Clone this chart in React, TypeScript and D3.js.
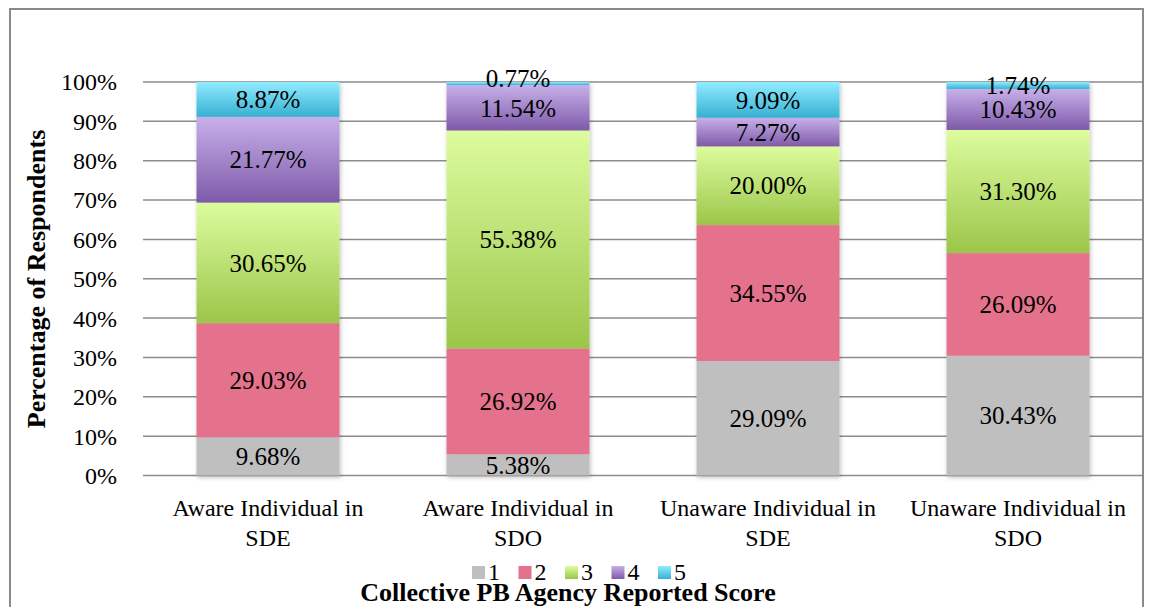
import React, { useEffect, useRef } from "react"
import * as d3 from "d3"

const categories = [
  ["Aware Individual in", "SDE"],
  ["Aware Individual in", "SDO"],
  ["Unaware Individual in", "SDE"],
  ["Unaware Individual in", "SDO"],
]
const scores = ["1", "2", "3", "4", "5"]
const score1 = [9.68, 5.38, 29.09, 30.43]
const score2 = [29.03, 26.92, 34.55, 26.09]
const score3 = [30.65, 55.38, 20.0, 31.3]
const score4 = [21.77, 11.54, 7.27, 10.43]
const score5 = [8.87, 0.77, 9.09, 1.74]
const yTicks = [0, 10, 20, 30, 40, 50, 60, 70, 80, 90, 100]

// top / bottom colours of each segment gradient
const colors = [
  ["#bfbfbf", "#bfbfbf"],
  ["#e5728c", "#e5728c"],
  ["#ddfc9e", "#9bc64a"],
  ["#c7b0ea", "#7e5aa8"],
  ["#90ecff", "#38b0d2"],
]

const W = 1151
const H = 607
const font = "'Liberation Serif', 'Times New Roman', serif"

export default function App() {
  const ref = useRef<SVGSVGElement>(null)

  useEffect(() => {
    const svg = d3.select(ref.current)
    svg.selectAll("*").remove()

    const series = [score1, score2, score3, score4, score5]
    const x = d3
      .scaleBand()
      .domain(categories.map((c, i) => String(i)))
      .range([143, 1143])
      .paddingInner(0.428)
      .paddingOuter(0.214)
    const y = d3.scaleLinear().domain([0, 100]).range([475.5, 82])

    const defs = svg.append("defs")
    colors.forEach((c, i) => {
      const g = defs
        .append("linearGradient")
        .attr("id", "grad" + i)
        .attr("x1", 0).attr("y1", 0).attr("x2", 0).attr("y2", 1)
      g.append("stop").attr("offset", "0%").attr("stop-color", c[0])
      g.append("stop").attr("offset", "100%").attr("stop-color", c[1])
    })
    const f = defs.append("filter").attr("id", "shadow")
      .attr("x", -0.1).attr("y", -0.1).attr("width", 1.2).attr("height", 1.2)
    f.append("feDropShadow")
      .attr("dx", 1).attr("dy", 2).attr("stdDeviation", 2)
      .attr("flood-color", "#000").attr("flood-opacity", 0.25)

    // outer frame
    svg.append("rect")
      .attr("x", 10).attr("y", 9).attr("width", 1133).attr("height", 620)
      .attr("fill", "none").attr("stroke", "#8a8a8a").attr("stroke-width", 2)

    // gridlines
    svg.append("g")
      .selectAll("line")
      .data(yTicks)
      .enter()
      .append("line")
      .attr("x1", 143).attr("x2", 1143)
      .attr("y1", d => y(d)).attr("y2", d => y(d))
      .attr("stroke", "#8c8c8c").attr("stroke-width", 1.5)

    // y tick labels
    svg.append("g")
      .selectAll("text")
      .data(yTicks)
      .enter()
      .append("text")
      .attr("x", 117)
      .attr("y", d => y(d))
      .attr("dy", "0.35em")
      .attr("text-anchor", "end")
      .attr("font-family", font)
      .attr("font-size", 24)
      .text(d => d + "%")

    // stacked bars
    const bars = svg.append("g")
    categories.forEach((c, ci) => {
      let acc = 0
      const segs = series.map((s, si) => {
        const seg = { si, y0: acc, y1: acc + s[ci], v: s[ci] }
        acc += s[ci]
        return seg
      })
      const g = bars.append("g").attr("filter", "url(#shadow)")
      g.selectAll("rect")
        .data(segs)
        .enter()
        .append("rect")
        .attr("x", x(String(ci))!)
        .attr("width", x.bandwidth())
        .attr("y", d => y(d.y1))
        .attr("height", d => y(d.y0) - y(d.y1))
        .attr("fill", d => `url(#grad${d.si})`)
      bars.append("g")
        .selectAll("text")
        .data(segs)
        .enter()
        .append("text")
        .attr("x", x(String(ci))! + x.bandwidth() / 2)
        .attr("y", d => (d.v < 1 ? y(d.y1) - 4 : (y(d.y0) + y(d.y1)) / 2))
        .attr("dy", "0.35em")
        .attr("text-anchor", "middle")
        .attr("font-family", font)
        .attr("font-size", 25)
        .text(d => d.v.toFixed(2) + "%")
    })

    // category labels
    const cat = svg.append("g")
    categories.forEach((c, ci) => {
      c.forEach((line, li) => {
        cat.append("text")
          .attr("x", x(String(ci))! + x.bandwidth() / 2)
          .attr("y", 516 + li * 30)
          .attr("text-anchor", "middle")
          .attr("font-family", font)
          .attr("font-size", 24)
          .text(line)
      })
    })

    // y axis title
    svg.append("text")
      .attr("transform", "translate(45,279) rotate(-90)")
      .attr("text-anchor", "middle")
      .attr("font-family", font)
      .attr("font-size", 26)
      .attr("font-weight", "bold")
      .text("Percentage of Respondents")

    // legend
    const legend = svg.append("g")
      .selectAll("g")
      .data(scores)
      .enter()
      .append("g")
      .attr("transform", (d, i) => `translate(${472 + i * 46.5},566)`)
    legend.append("rect")
      .attr("width", 13).attr("height", 13)
      .attr("fill", (d, i) => `url(#grad${i})`)
    legend.append("text")
      .attr("x", 16).attr("y", 14)
      .attr("font-family", font)
      .attr("font-size", 24)
      .text(d => d)

    // x axis title
    svg.append("text")
      .attr("x", 568).attr("y", 601)
      .attr("text-anchor", "middle")
      .attr("font-family", font)
      .attr("font-size", 26)
      .attr("font-weight", "bold")
      .text("Collective PB Agency Reported Score")
  }, [])

  return (
    <svg
      ref={ref}
      width={W}
      height={H}
      style={{ position: "absolute", left: 0, top: 0, background: "#fff" }}
    />
  )
}
